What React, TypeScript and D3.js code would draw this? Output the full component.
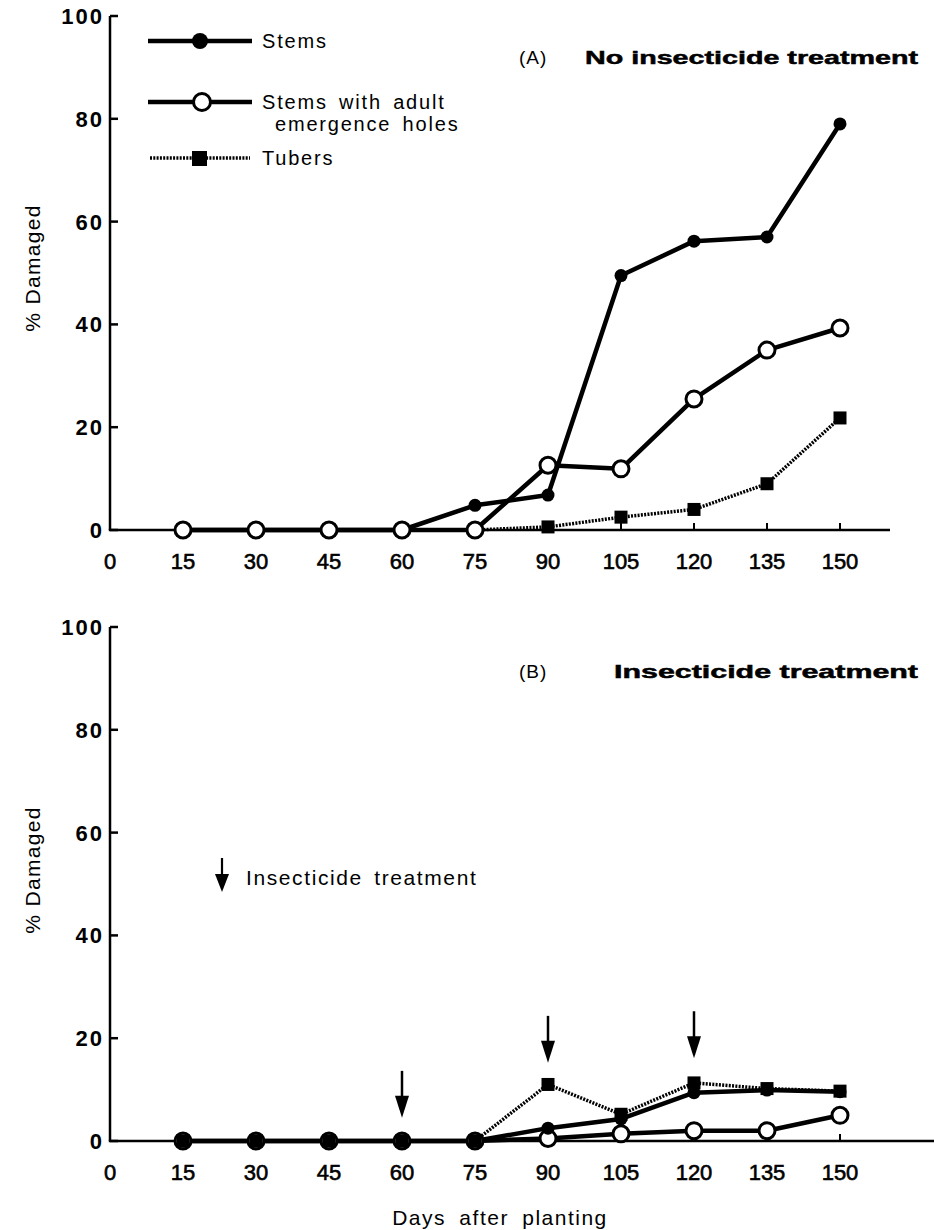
import React from "react";
import * as d3 from "d3";

const days = [15, 30, 45, 60, 75, 90, 105, 120, 135, 150];
const xTicks = [0, 15, 30, 45, 60, 75, 90, 105, 120, 135, 150];
const yTicks = [0, 20, 40, 60, 80, 100];

const aStems = [0, 0, 0, 0, 4.8, 6.8, 49.5, 56.2, 57, 79];
const aHoles = [0, 0, 0, 0, 0, 12.6, 11.9, 25.5, 35, 39.3];
const aTubers = [0, 0, 0, 0, 0, 0.6, 2.5, 4, 9, 21.8];

const bStems = [0, 0, 0, 0, 0, 2.5, 4.3, 9.4, 9.9, 9.6];
const bHoles = [0, 0, 0, 0, 0, 0.5, 1.4, 2, 2, 5];
const bTubers = [0, 0, 0, 0, 0, 11, 5.2, 11.3, 10.2, 9.7];

const arrowDays = [60, 90, 120];
const arrowTips = [4.5, 15.2, 16.1];

const FONT = "'Liberation Sans', Arial, Helvetica, sans-serif";

type Pt = [number, number];

function Panel({
  yTop, yZero, axisEnd, stems, holes, tubers, order, title, label, yLabelY, children,
}: any) {
  const x = d3.scaleLinear().domain([0, 150]).range([110, 840]);
  const y = d3.scaleLinear().domain([0, 100]).range([yZero, yTop]);
  const line = d3.line<Pt>().x((d) => x(d[0])).y((d) => y(d[1]));
  const pts = (v: number[]): Pt[] => days.map((d, i) => [d, v[i]] as Pt);

  const stemsLine = <path key="sl" d={line(pts(stems)) || ""} fill="none" stroke="#000" strokeWidth={4.5} strokeLinejoin="round" />;
  const holesLine = <path key="hl" d={line(pts(holes)) || ""} fill="none" stroke="#000" strokeWidth={4.5} strokeLinejoin="round" />;
  const tubersLine = <path key="tl" d={line(pts(tubers)) || ""} fill="none" stroke="#000" strokeWidth={3.5} strokeDasharray="2 1.3" />;

  const stemsMarks = (
    <g key="sm">
      {pts(stems).map((p, i) => (
        <circle key={i} cx={x(p[0])} cy={y(p[1])} r={6.5} fill="#000" />
      ))}
    </g>
  );
  const holesMarks = (
    <g key="hm">
      {pts(holes).map((p, i) => (
        <circle key={i} cx={x(p[0])} cy={y(p[1])} r={8} fill="#fff" stroke="#000" strokeWidth={3} />
      ))}
    </g>
  );
  const tubersMarks = (
    <g key="tm">
      {pts(tubers).map((p, i) => (
        <rect key={i} x={x(p[0]) - 6.5} y={y(p[1]) - 6.5} width={13} height={13} fill="#000" />
      ))}
    </g>
  );
  const layers: any = {
    stems: [stemsLine, stemsMarks],
    holes: [holesLine, holesMarks],
    tubers: [tubersLine, tubersMarks],
  };

  return (
    <g>
      {/* axes */}
      <line x1={x(0)} y1={y(0)} x2={x(0)} y2={y(100)} stroke="#000" strokeWidth={2.5} />
      <line x1={x(0) - 1.2} y1={y(0)} x2={axisEnd} y2={y(0)} stroke="#000" strokeWidth={2.5} />
      {yTicks.map((t) => (
        <g key={t}>
          <line x1={x(0)} x2={x(0) + 8} y1={y(t)} y2={y(t)} stroke="#000" strokeWidth={2.5} />
          <text x={104} y={y(t)} dy="0.36em" textAnchor="end" fontFamily={FONT} fontWeight="bold" fontSize={22} letterSpacing={2}>
            {t}
          </text>
        </g>
      ))}
      {xTicks.slice(1).map((t) => (
        <line key={t} x1={x(t)} x2={x(t)} y1={y(0)} y2={y(0) - 7} stroke="#000" strokeWidth={2} />
      ))}
      {xTicks.map((t) => (
        <text key={t} x={x(t)} y={y(0) + 31} dy="0.36em" textAnchor="middle" fontFamily={FONT} fontSize={22} stroke="#000" strokeWidth={0.6}>
          {t}
        </text>
      ))}
      <text transform={`translate(40, ${yLabelY}) rotate(-90)`} textAnchor="middle" fontFamily={FONT} fontSize={21} letterSpacing={1.3}>
        % Damaged
      </text>
      {/* series */}
      {order.map((k: string) => layers[k][0])}
      {order.map((k: string) => layers[k][1])}
      {/* title */}
      <text x={519} y={label.y} fontFamily={FONT} fontSize={19} letterSpacing={1}>{label.tag}</text>
      <text x={title.x} y={label.y} fontFamily={FONT} fontSize={19} fontWeight="bold" stroke="#000" strokeWidth={0.5} textLength={918 - title.x} lengthAdjust="spacingAndGlyphs">
        {title.text}
      </text>
      {children && children(x, y)}
    </g>
  );
}

export default function App() {
  return (
    <svg width={934} height={1230} style={{ position: "absolute", left: 0, top: 0, background: "#fff" }}>
      <rect width={934} height={1230} fill="#fff" />
      <Panel
        yTop={16}
        yZero={530}
        axisEnd={890}
        stems={aStems}
        holes={aHoles}
        tubers={aTubers}
        order={["tubers", "stems", "holes"]}
        title={{ x: 585, text: "No insecticide treatment" }}
        label={{ tag: "(A)", y: 64 }}
        yLabelY={268}
      />
      {/* legend */}
      <g fontFamily={FONT} fontSize={20} letterSpacing={1.8} wordSpacing={4}>
        <line x1={148} x2={252} y1={41} y2={41} stroke="#000" strokeWidth={4.5} />
        <circle cx={200} cy={41} r={8} fill="#000" />
        <text x={262} y={48}>Stems</text>
        <line x1={148} x2={252} y1={102} y2={102} stroke="#000" strokeWidth={4.5} />
        <circle cx={202} cy={102} r={8.5} fill="#fff" stroke="#000" strokeWidth={3} />
        <text x={262} y={109}>Stems with adult</text>
        <text x={275} y={131}>emergence holes</text>
        <line x1={150} x2={250} y1={158} y2={158} stroke="#000" strokeWidth={3.5} strokeDasharray="2 1.3" />
        <rect x={192} y={151} width={15} height={15} fill="#000" />
        <text x={262} y={165}>Tubers</text>
      </g>
      <Panel
        yTop={627}
        yZero={1141}
        axisEnd={934}
        stems={bStems}
        holes={bHoles}
        tubers={bTubers}
        order={["holes", "tubers", "stems"]}
        title={{ x: 614, text: "Insecticide treatment" }}
        label={{ tag: "(B)", y: 678 }}
        yLabelY={870}
      >
        {(x: any, y: any) => (
          <g>
            {arrowDays.map((d, i) => {
              const tip = y(arrowTips[i]);
              return (
                <g key={d}>
                  <line x1={x(d)} x2={x(d)} y1={tip - 47} y2={tip - 16} stroke="#000" strokeWidth={2.5} />
                  <path d={`M${x(d) - 7},${tip - 22} L${x(d) + 7},${tip - 22} L${x(d)},${tip} Z`} fill="#000" />
                </g>
              );
            })}
          </g>
        )}
      </Panel>
      {/* arrow legend */}
      <line x1={222} x2={222} y1={858} y2={880} stroke="#000" strokeWidth={2.2} />
      <path d="M215,874 L229,874 L222,892 Z" fill="#000" />
      <text x={246} y={885} fontFamily={FONT} fontSize={21} letterSpacing={1.6} wordSpacing={4}>
        Insecticide treatment
      </text>
      <text x={500} y={1225} textAnchor="middle" fontFamily={FONT} fontSize={21} letterSpacing={1.5} wordSpacing={6}>
        Days after planting
      </text>
    </svg>
  );
}
